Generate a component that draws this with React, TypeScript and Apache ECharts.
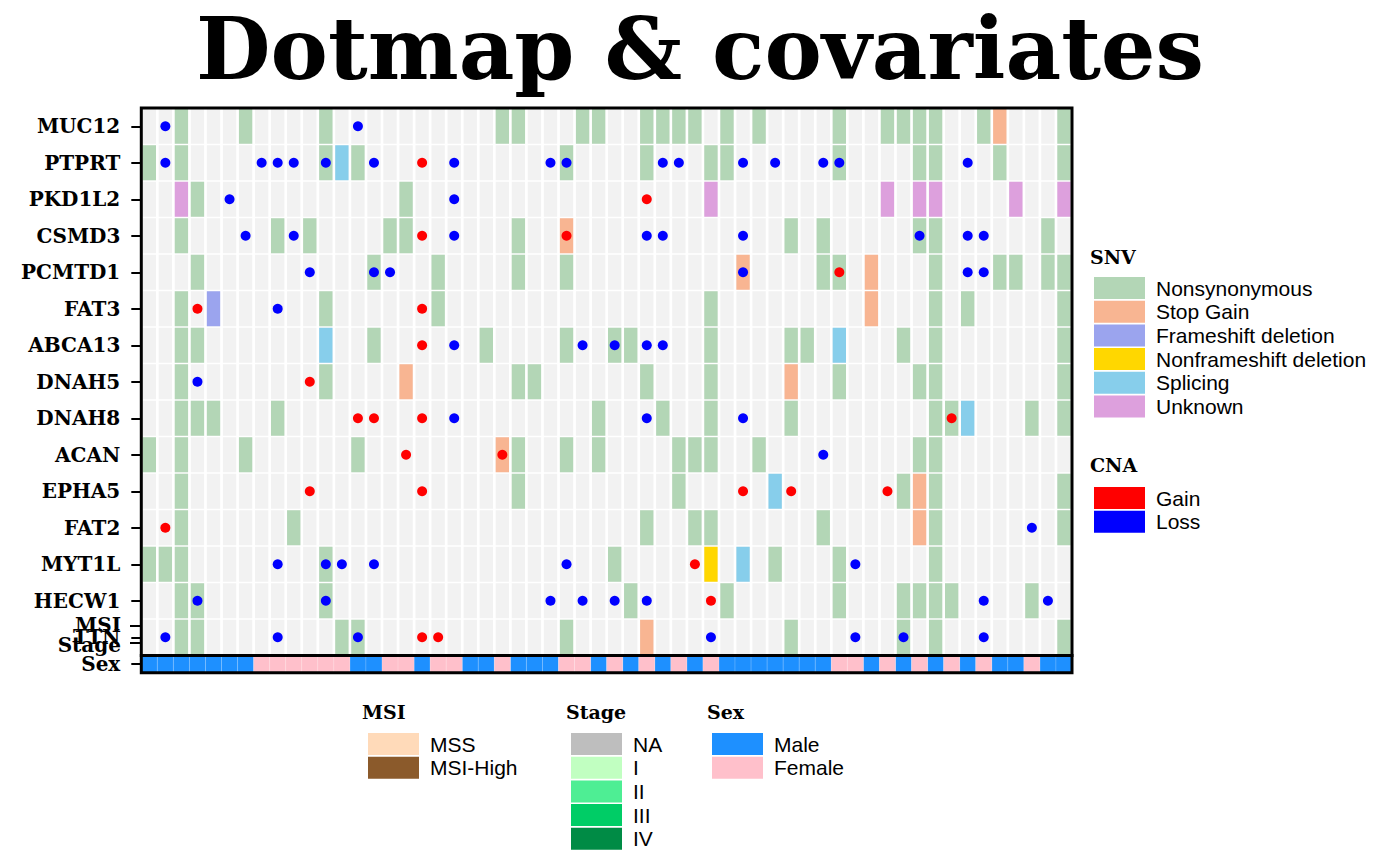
import { useEffect, useRef } from 'react'
import * as echarts from 'echarts'

const genes = ['MUC12', 'PTPRT', 'PKD1L2', 'CSMD3', 'PCMTD1', 'FAT3', 'ABCA13', 'DNAH5', 'DNAH8', 'ACAN', 'EPHA5', 'FAT2', 'MYT1L', 'HECW1', 'TTN']

// 58 samples, left to right
const samples = Array.from({ length: 58 }, (_, i) => `S${i + 1}`)

// sample (column) indices per gene, same order as genes
const nonsynonymous = [
  [2, 6, 11, 22, 23, 27, 28, 31, 32, 33, 34, 36, 38, 43, 46, 47, 48, 49, 52, 57],
  [0, 2, 11, 13, 26, 31, 35, 36, 43, 48, 49, 53, 57],
  [3, 16],
  [2, 8, 10, 15, 16, 23, 40, 42, 48, 49, 56],
  [3, 14, 18, 23, 26, 42, 43, 49, 53, 54, 56, 57],
  [2, 11, 18, 35, 49, 51, 57],
  [2, 3, 14, 21, 26, 29, 30, 35, 40, 41, 47, 49, 57],
  [2, 11, 23, 24, 31, 35, 43, 48, 49, 57],
  [2, 3, 4, 8, 28, 32, 35, 40, 49, 50, 55, 57],
  [0, 2, 6, 13, 23, 26, 28, 33, 34, 35, 38, 48, 49],
  [2, 23, 33, 47, 49, 57],
  [2, 9, 31, 34, 35, 42, 49, 57],
  [0, 1, 2, 11, 29, 39, 43, 49],
  [2, 3, 11, 30, 36, 43, 47, 48, 49, 50, 55],
  [2, 3, 12, 13, 26, 40, 47, 49, 57],
]
const stopGain = [[53], [], [], [26], [37, 45], [45], [], [16, 40], [], [22], [48], [48], [], [], [31]]
const frameshiftDel = [[], [], [], [], [], [4], [], [], [], [], [], [], [], [], []]
const nonframeshiftDel = [[], [], [], [], [], [], [], [], [], [], [], [], [35], [], []]
const splicing = [[], [12], [], [], [], [], [11, 43], [], [51], [], [39], [], [37], [], []]
const unknown = [[], [], [2, 35, 46, 48, 49, 54, 57], [], [], [], [], [], [], [], [], [], [], [], []]

const cnaGain = [[], [17], [31], [17, 26], [43], [3, 17], [17], [10], [13, 14, 17, 50], [16, 22], [10, 17, 37, 40, 46], [1], [34], [35], [17, 18]]
const cnaLoss = [
  [1, 13],
  [1, 7, 8, 9, 11, 14, 19, 25, 26, 32, 33, 37, 39, 42, 43, 51],
  [5, 19],
  [6, 9, 19, 31, 32, 37, 48, 51, 52],
  [10, 14, 15, 37, 51, 52],
  [8],
  [19, 27, 29, 31, 32],
  [3],
  [19, 31, 37],
  [42],
  [],
  [55],
  [8, 11, 12, 14, 26, 44],
  [3, 11, 25, 27, 29, 31, 52, 56],
  [1, 8, 13, 35, 44, 47, 52],
]

// M = Male, F = Female, one letter per sample
const sexCodes = 'MMMMMMMFFFFFFMMFFMFFMMFMMMFFMFMFMFMFMMMMMMMFFMFMFMFMFMMFMM'

const msiLevels = ['MSS', 'MSI-High']
const stageLevels = ['NA', 'I', 'II', 'III', 'IV']
const sexLevels = ['Male', 'Female']

const SERIF = "'DejaVu Serif', serif"
const SANS = "'Liberation Sans', Arial, sans-serif"

const toCells = (rows: number[][]) => rows.flatMap((cols, g) => cols.map((c) => [c, g]))

function cellItem(padX: number, padY: number, stroke?: string) {
  return (_params: any, api: any) => {
    const [cx, cy] = api.coord([api.value(0), api.value(1)])
    const [w, h] = api.size([1, 1])
    return {
      type: 'rect',
      shape: { x: cx - w / 2 + padX / 2, y: cy - h / 2 + padY / 2, width: w - padX, height: h - padY },
      style: { fill: api.visual('color'), stroke: stroke || null, lineWidth: stroke ? 0.6 : 0 },
    }
  }
}

export default function App() {
  const chartRef = useRef<HTMLDivElement>(null)

  useEffect(() => {
    if (!chartRef.current) return
    const chart = echarts.init(chartRef.current, null, { renderer: 'svg' })

    const background = genes.flatMap((_, g) => samples.map((_, c) => [c, g]))

    const snv = [
      { name: 'Nonsynonymous', color: '#B3D6B6', rows: nonsynonymous },
      { name: 'Stop Gain', color: '#F8B592', rows: stopGain },
      { name: 'Frameshift deletion', color: '#9BA4EE', rows: frameshiftDel },
      { name: 'Nonframeshift deletion', color: '#FFD700', rows: nonframeshiftDel },
      { name: 'Splicing', color: '#87CEEB', rows: splicing },
      { name: 'Unknown', color: '#DDA0DD', rows: unknown },
    ]
    const msiColors = ['#FFDAB9', '#8B5A2B']
    const stageColors = ['#BEBEBE', '#C1FFC1', '#4EEE94', '#00CD66', '#008B45']
    const sexColors = ['#1E90FF', '#FFC0CB']

    const legendBase = {
      orient: 'vertical',
      icon: 'rect',
      padding: 0,
      itemWidth: 51,
      itemHeight: 22,
      itemGap: 1.7,
      selectedMode: false,
      textStyle: { fontFamily: SANS, fontSize: 21, color: '#000', padding: [0, 0, 0, 6] },
    }
    const sectionTitle = (text: string, left: number, top: number) => ({
      text,
      left,
      top,
      padding: 0,
      textStyle: { fontFamily: SERIF, fontWeight: 'bold', fontSize: 19, color: '#000' },
    })
    const yAxisBase = {
      type: 'category',
      inverse: true,
      axisLine: { show: false },
      axisTick: { show: true, alignWithLabel: true, length: 10, lineStyle: { color: '#000', width: 2 } },
      axisLabel: { margin: 21, fontFamily: SERIF, fontWeight: 'bold', fontSize: 20, color: '#000' },
      splitLine: { show: false },
    }

    chart.setOption({
      animation: false,
      backgroundColor: '#fff',
      title: [
        {
          text: 'Dotmap & covariates',
          left: 'center',
          top: 3,
          padding: 0,
          textStyle: { fontFamily: SERIF, fontWeight: 'bold', fontSize: 86, lineHeight: 90, color: '#000' },
        },
        sectionTitle('SNV', 1090, 247),
        sectionTitle('CNA', 1090, 455),
        sectionTitle('MSI', 362, 702),
        sectionTitle('Stage', 566, 702),
        sectionTitle('Sex', 707, 702),
      ],
      legend: [
        { ...legendBase, data: snv.map((s) => s.name), left: 1094, top: 277 },
        { ...legendBase, data: ['Gain', 'Loss'], left: 1094, top: 487 },
        { ...legendBase, data: msiLevels, left: 368, top: 733 },
        { ...legendBase, data: stageLevels, left: 571, top: 733 },
        { ...legendBase, data: sexLevels, left: 712, top: 733 },
      ],
      grid: [
        { left: 141.3, top: 108, width: 930.7, height: 547.5, show: true, borderColor: '#000', borderWidth: 3, z: 10, backgroundColor: 'transparent' },
        { left: 141.3, top: 655.5, width: 930.7, height: 17.2, show: true, borderColor: '#000', borderWidth: 3, z: 10, backgroundColor: 'transparent' },
      ],
      xAxis: [
        { type: 'category', data: samples, gridIndex: 0, show: false },
        { type: 'category', data: samples, gridIndex: 1, show: false },
      ],
      yAxis: [
        { ...yAxisBase, data: genes, gridIndex: 0 },
        { ...yAxisBase, data: ['Sex'], gridIndex: 1 },
      ],
      graphic: [
        { type: 'text', x: 121, y: 625, z: 20, style: { text: 'MSI', align: 'right', verticalAlign: 'middle', font: `bold 20px ${SERIF}`, fill: '#000' } },
        { type: 'text', x: 121, y: 645, z: 20, style: { text: 'Stage', align: 'right', verticalAlign: 'middle', font: `bold 20px ${SERIF}`, fill: '#000' } },
        { type: 'line', z: 20, shape: { x1: 130, y1: 626, x2: 141, y2: 626 }, style: { stroke: '#000', lineWidth: 2 } },
        { type: 'line', z: 20, shape: { x1: 130, y1: 643, x2: 141, y2: 643 }, style: { stroke: '#000', lineWidth: 2 } },
      ],
      series: [
        {
          name: 'cells',
          type: 'custom',
          silent: true,
          xAxisIndex: 0,
          yAxisIndex: 0,
          itemStyle: { color: '#F2F2F2' },
          renderItem: cellItem(2.7, 1.5),
          data: background,
          z: 1,
        },
        ...snv.map((s) => ({
          name: s.name,
          type: 'custom',
          xAxisIndex: 0,
          yAxisIndex: 0,
          itemStyle: { color: s.color },
          renderItem: cellItem(2.7, 1.5),
          data: toCells(s.rows),
          z: 2,
        })),
        { name: 'Gain', type: 'scatter', xAxisIndex: 0, yAxisIndex: 0, symbolSize: 10, itemStyle: { color: '#FF0000', opacity: 1 }, data: toCells(cnaGain), z: 5 },
        { name: 'Loss', type: 'scatter', xAxisIndex: 0, yAxisIndex: 0, symbolSize: 10, itemStyle: { color: '#0000FF', opacity: 1 }, data: toCells(cnaLoss), z: 5 },
        ...msiLevels.map((name, i) => ({
          name,
          type: 'custom',
          xAxisIndex: 1,
          yAxisIndex: 1,
          itemStyle: { color: msiColors[i] },
          renderItem: cellItem(0, 0),
          data: [],
        })),
        ...stageLevels.map((name, i) => ({
          name,
          type: 'custom',
          xAxisIndex: 1,
          yAxisIndex: 1,
          itemStyle: { color: stageColors[i] },
          renderItem: cellItem(0, 0),
          data: [],
        })),
        ...sexLevels.map((name, i) => ({
          name,
          type: 'custom',
          xAxisIndex: 1,
          yAxisIndex: 1,
          itemStyle: { color: sexColors[i] },
          renderItem: cellItem(0, 0, 'rgba(255,255,255,0.25)'),
          data: sexCodes
            .split('')
            .map((code, c) => (code === name[0] ? [c, 0] : null))
            .filter(Boolean),
          z: 2,
        })),
      ],
    })

    return () => {
      chart.dispose()
    }
  }, [])

  return <div ref={chartRef} style={{ position: 'absolute', left: 0, top: 0, width: 1400, height: 866 }}></div>
}
